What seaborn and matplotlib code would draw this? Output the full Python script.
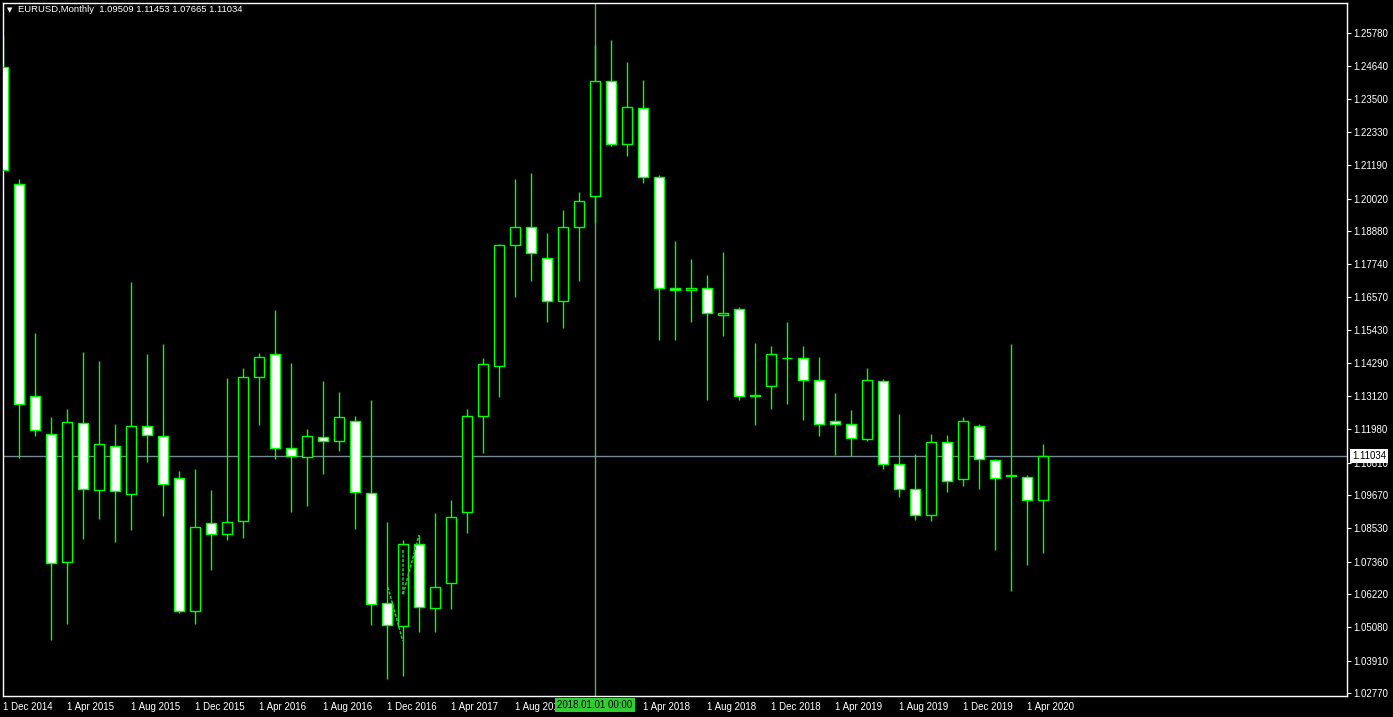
import numpy as np
import pandas as pd
import seaborn as sns
import matplotlib
matplotlib.use("Agg")
import matplotlib.pyplot as plt

# monthly EURUSD bars, Dec 2014 .. May 2020
months = pd.date_range("2014-12-01", periods=66, freq="MS")

opens = [1.2461, 1.2053, 1.1312, 1.1180, 1.0734, 1.1218, 1.0985, 1.1138, 1.0971, 1.1208,
         1.1173, 1.1027, 1.0563, 1.0870, 1.0831, 1.0877, 1.1379, 1.1459, 1.1131, 1.1100,
         1.1170, 1.1156, 1.1225, 1.0974, 1.0591, 1.0511, 1.0796, 1.0573, 1.0661, 1.0908,
         1.1243, 1.1417, 1.1839, 1.1902, 1.1794, 1.1644, 1.1902, 1.2010, 1.2411, 1.2191,
         1.2317, 1.2076, 1.1689, 1.1682, 1.1689, 1.1595, 1.1616, 1.1312, 1.1349, 1.1447,
         1.1445, 1.1368, 1.1225, 1.1215, 1.1163, 1.1365, 1.1075, 1.0988, 1.0898, 1.1152,
         1.1023, 1.1208, 1.1089, 1.1037, 1.1030, 1.09509]
highs = [1.2569, 1.2070, 1.1533, 1.1240, 1.1268, 1.1467, 1.1436, 1.1216, 1.1711, 1.1460,
         1.1495, 1.1052, 1.1059, 1.0986, 1.1376, 1.1411, 1.1463, 1.1613, 1.1429, 1.1198,
         1.1366, 1.1327, 1.1244, 1.1300, 1.0874, 1.0811, 1.0829, 1.0906, 1.0951, 1.1268,
         1.1445, 1.1843, 1.2070, 1.2091, 1.1882, 1.1962, 1.2025, 1.2537, 1.2555, 1.2478,
         1.2415, 1.2083, 1.1854, 1.1791, 1.1734, 1.1816, 1.1624, 1.1498, 1.1488, 1.1571,
         1.1488, 1.1449, 1.1324, 1.1265, 1.1411, 1.1372, 1.1251, 1.1111, 1.1181, 1.1178,
         1.1240, 1.1216, 1.1093, 1.1495, 1.1037, 1.11453]
lows = [1.2098, 1.1097, 1.1175, 1.0463, 1.0520, 1.0816, 1.0886, 1.0806, 1.0847, 1.1084,
        1.0896, 1.0558, 1.0520, 1.0708, 1.0813, 1.0819, 1.1213, 1.1095, 1.0910, 1.0931,
        1.1043, 1.1123, 1.0851, 1.0516, 1.0327, 1.0338, 1.0492, 1.0492, 1.0570, 1.0837,
        1.1116, 1.1311, 1.1660, 1.1715, 1.1573, 1.1552, 1.1715, 1.1916, 1.2186, 1.2151,
        1.2055, 1.1508, 1.1508, 1.1573, 1.1301, 1.1524, 1.1301, 1.1213, 1.1269, 1.1287,
        1.1231, 1.1175, 1.1109, 1.1104, 1.1158, 1.1060, 1.0962, 1.0882, 1.0879, 1.0980,
        1.1001, 1.0990, 1.0778, 1.0635, 1.0725, 1.07665]
closes = [1.2101, 1.1286, 1.1194, 1.0730, 1.1222, 1.0988, 1.1145, 1.0981, 1.1208, 1.1176,
          1.1006, 1.0563, 1.0856, 1.0831, 1.0873, 1.1379, 1.1448, 1.1131, 1.1103, 1.1173,
          1.1156, 1.1239, 1.0978, 1.0587, 1.0514, 1.0796, 1.0577, 1.0647, 1.0891, 1.1243,
          1.1424, 1.1839, 1.1902, 1.1811, 1.1644, 1.1902, 1.1992, 1.2411, 1.2191, 1.2320,
          1.2076, 1.1689, 1.1682, 1.1689, 1.1602, 1.1602, 1.1312, 1.1316, 1.1459, 1.1445,
          1.1368, 1.1215, 1.1215, 1.1166, 1.1368, 1.1075, 1.0988, 1.0898, 1.1152, 1.1016,
          1.1225, 1.1093, 1.1027, 1.1036, 1.0950, 1.11034]

x_labels = ["1 Dec 2014", "1 Apr 2015", "1 Aug 2015", "1 Dec 2015", "1 Apr 2016",
            "1 Aug 2016", "1 Dec 2016", "1 Apr 2017", "1 Aug 2017", "1 Dec 2017",
            "1 Apr 2018", "1 Aug 2018", "1 Dec 2018", "1 Apr 2019", "1 Aug 2019",
            "1 Dec 2019", "1 Apr 2020"]
y_ticks = [1.02770, 1.03910, 1.05080, 1.06220, 1.07360, 1.08530, 1.09670, 1.10810,
           1.11980, 1.13120, 1.14290, 1.15430, 1.16570, 1.17740, 1.18880, 1.20020,
           1.21190, 1.22330, 1.23500, 1.24640, 1.25780]

# zigzag object drawn on the chart
zz1_x = [24.06, 24.98]
zz1_y = [1.0647, 1.0460]
zz2_x = [25.0, 25.0, 26.0]
zz2_y = [1.0777, 1.0620, 1.0829]

bid = 1.11034
cross_bar = 37
cross_label = "2018.01.01 00:00"
title = "EURUSD,Monthly  1.09509 1.11453 1.07665 1.11034"

df = pd.DataFrame({"date": months, "open": opens, "high": highs,
                   "low": lows, "close": closes})
df["i"] = np.arange(len(df))
df["bull"] = df["close"] >= df["open"]

sns.set_theme(style="dark", rc={"axes.facecolor": "black", "figure.facecolor": "black",
                                "axes.edgecolor": "white", "text.color": "white",
                                "xtick.color": "white", "ytick.color": "white"})
plt.rcParams["font.family"] = ["Liberation Sans", "DejaVu Sans"]

fig = plt.figure(figsize=(13.93, 7.17), dpi=100)
ax = fig.add_axes([3 / 1393, 21 / 717, 1344 / 1393, 693 / 717])

green = "#00ff00"
ax.vlines(df["i"], df["low"], df["high"], color=green, lw=1.0, zorder=2)
body_bottom = df[["open", "close"]].min(axis=1)
body_h = (df["close"] - df["open"]).abs()
fills = np.where(df["bull"], "black", "white")
ax.bar(df["i"], body_h, bottom=body_bottom, width=0.58, color=fills,
       edgecolor=green, linewidth=1.0, zorder=3)

ax.plot(zz1_x, zz1_y, color="#22cc22", lw=1.1, ls=(0, (2, 1)), zorder=4)
ax.plot(zz2_x, zz2_y, color="#22cc22", lw=1.1, ls=(0, (2, 1)), zorder=4)

# bid line and crosshair
ax.axhline(bid, color="#778899", lw=1.0, zorder=1)
ax.axvline(cross_bar, color="#5fae5f", lw=1.0, zorder=1)

ax.set_xlim(0, 84)
ax.set_ylim(1.02676, 1.26837)
ax.grid(False)
for s in ax.spines.values():
    s.set_color("white")
    s.set_linewidth(1.0)

ax.set_xticks(np.arange(0, 65, 4))
ax.set_xticklabels(x_labels, ha="left", fontsize=7, color="white")
ax.yaxis.tick_right()
ax.set_yticks(y_ticks)
ax.set_yticklabels([f"{v:.5f}" for v in y_ticks], fontsize=7, color="white")
ax.tick_params(axis="both", direction="out", length=3, width=0.8, colors="white", pad=1.5)
ax.tick_params(axis="x", pad=1)

# price label on the scale
ax.annotate(f"{bid:.5f}", xy=(1, bid), xycoords=("axes fraction", "data"),
            xytext=(5, 0), textcoords="offset pixels", ha="left", va="center",
            fontsize=7, color="black", zorder=10, annotation_clip=False,
            bbox=dict(boxstyle="square,pad=0.2", fc="white", ec="none"))

# crosshair time label
ax.annotate(cross_label, xy=(cross_bar, 0), xycoords=("data", "axes fraction"),
            xytext=(0, -9), textcoords="offset pixels", ha="center", va="center",
            fontsize=7, color="black", zorder=10, annotation_clip=False,
            bbox=dict(boxstyle="square,pad=0.2", fc="#32cd32", ec="none"))

fig.text(7 / 1393, 1 - 10.5 / 717, "\u25bc", fontsize=5, color="white", va="center",
         family=["DejaVu Sans"])
fig.text(18 / 1393, 1 - 10 / 717, title, fontsize=6.8, color="white", va="center")

fig.savefig("out.png", dpi=100, facecolor="black")
